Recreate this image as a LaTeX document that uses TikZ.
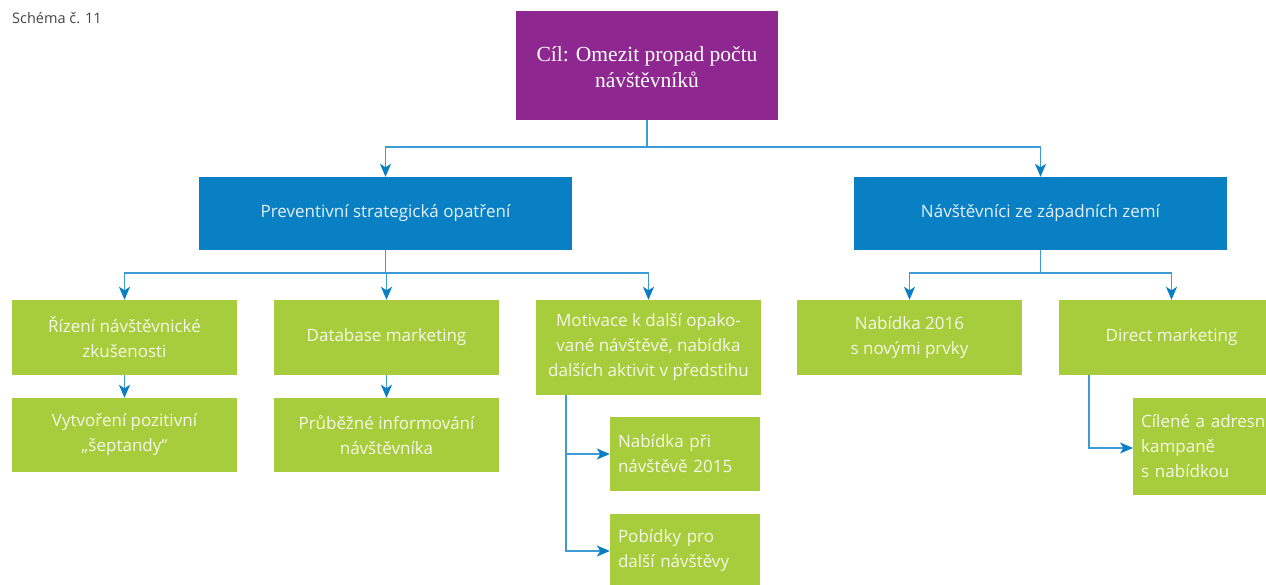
\documentclass[tikz,border=0pt]{standalone}
\usepackage{fontspec}
\setmainfont{Open Sans}
\newfontfamily\goalfont{Liberation Serif}
\usetikzlibrary{arrows.meta}
\definecolor{purp}{HTML}{8E278F}
\definecolor{bbox}{HTML}{0A80C4}
\definecolor{gbox}{HTML}{A8CD3C}
\definecolor{lineblue}{HTML}{3D9BD6}
\definecolor{tipblue}{HTML}{0A7EC2}
\definecolor{gtext}{HTML}{F4F8E8}
\definecolor{btext}{HTML}{E6F0F8}
\definecolor{labgray}{HTML}{444444}
\tikzset{
  goalbox/.style={fill=purp, text=white, minimum width=262pt, minimum height=109pt, align=center, inner sep=0pt, font=\goalfont\fontsize{21.5}{26}\selectfont},
  bluebox/.style={fill=bbox, text=btext, minimum width=373pt, minimum height=73pt, align=center, inner sep=0pt, font=\fontsize{17}{25}\selectfont},
  greenbox/.style={fill=gbox, text=gtext, minimum width=225pt, minimum height=75pt, align=center, inner sep=0pt, font=\fontsize{17}{25}\selectfont},
  smallgreen/.style={fill=gbox, text=gtext, minimum width=150pt, minimum height=74pt, text width=134pt, align=left, inner sep=8pt, font=\fontsize{17}{25}\selectfont},
  conn/.style={draw=lineblue, line width=1.5pt, -{Stealth[length=13pt,width=11pt,inset=3.5pt,color=tipblue]}},
}
\begin{document}
\begin{tikzpicture}[x=1pt,y=-1pt]
\useasboundingbox (0,0) rectangle (1266,584);
\clip (0,0) rectangle (1266,584);
\node[anchor=west, text=labgray, font=\fontsize{14.5}{16}\selectfont, inner sep=0pt] (lab) at (12,18) {Schéma č. 11};

\node[goalbox] (goal) at (647,65.5) {\raisebox{-4pt}[\height][\depth]{\begin{tabular}{@{}c@{}}Cíl: Omezit propad počtu\\návštěvníků\end{tabular}}};

\node[bluebox] (prev) at (385.5,213.5) {Preventivní strategická opatření};
\node[bluebox] (west) at (1040.5,213.5) {Návštěvníci ze západních zemí};

\node[greenbox] (g1) at (124.5,337.5) {Řízení návštěvnické\\zkušenosti};
\node[greenbox] (g2) at (386.5,337.5) {Database marketing};
\node[greenbox, minimum height=95pt] (g3) at (648.5,347.5) {Motivace k další opako-\\vané návštěvě, nabídka\\dalších aktivit v předstihu};
\node[greenbox] (g4) at (909.5,337.5) {Nabídka 2016\\s novými prvky};
\node[greenbox] (g5) at (1171.5,337.5) {Direct marketing};

\node[greenbox, minimum height=74pt] (h1) at (124.5,435) {Vytvoření pozitivní\\„šeptandy“};
\node[greenbox, minimum height=74pt] (h2) at (386.5,435) {Průběžné informování\\návštěvníka};

\node[smallgreen] (n1) at (685,454) {Nabídka při\\návštěvě 2015};
\node[smallgreen] (n2) at (685,551) {Pobídky pro\\další návštěvy};
\node[smallgreen, minimum width=225pt, minimum height=97pt, text width=209pt, anchor=west] (c1) at (1133,446.5) {Cílené a adresné\\kampaně\\s nabídkou};

\coordinate (j0) at (647,147);
\coordinate (j1) at (386,273);
\coordinate (j2) at (1040,273);

\draw[conn] (goal.south) -- (goal.south |- j0) -| (prev.north);
\draw[conn] (goal.south) -- (goal.south |- j0) -| (west.north);

\draw[conn] (prev.south) -- (prev.south |- j1) -| (g1.north);
\draw[conn] (prev.south) -- (prev.south |- j1) -| (g2.north);
\draw[conn] (prev.south) -- (prev.south |- j1) -| (g3.north);

\draw[conn] (west.south) -- (west.south |- j2) -| (g4.north);
\draw[conn] (west.south) -- (west.south |- j2) -| (g5.north);

\draw[conn] (g1.south) -- (h1.north);
\draw[conn] (g2.south) -- (h2.north);

\draw[conn] ([xshift=30pt]g3.south west) |- (n1.west);
\draw[conn] ([xshift=30pt]g3.south west) |- (n2.west);
\draw[conn] ([xshift=30pt]g5.south west) |- ([yshift=-1.5pt]c1.west);
\end{tikzpicture}
\end{document}
